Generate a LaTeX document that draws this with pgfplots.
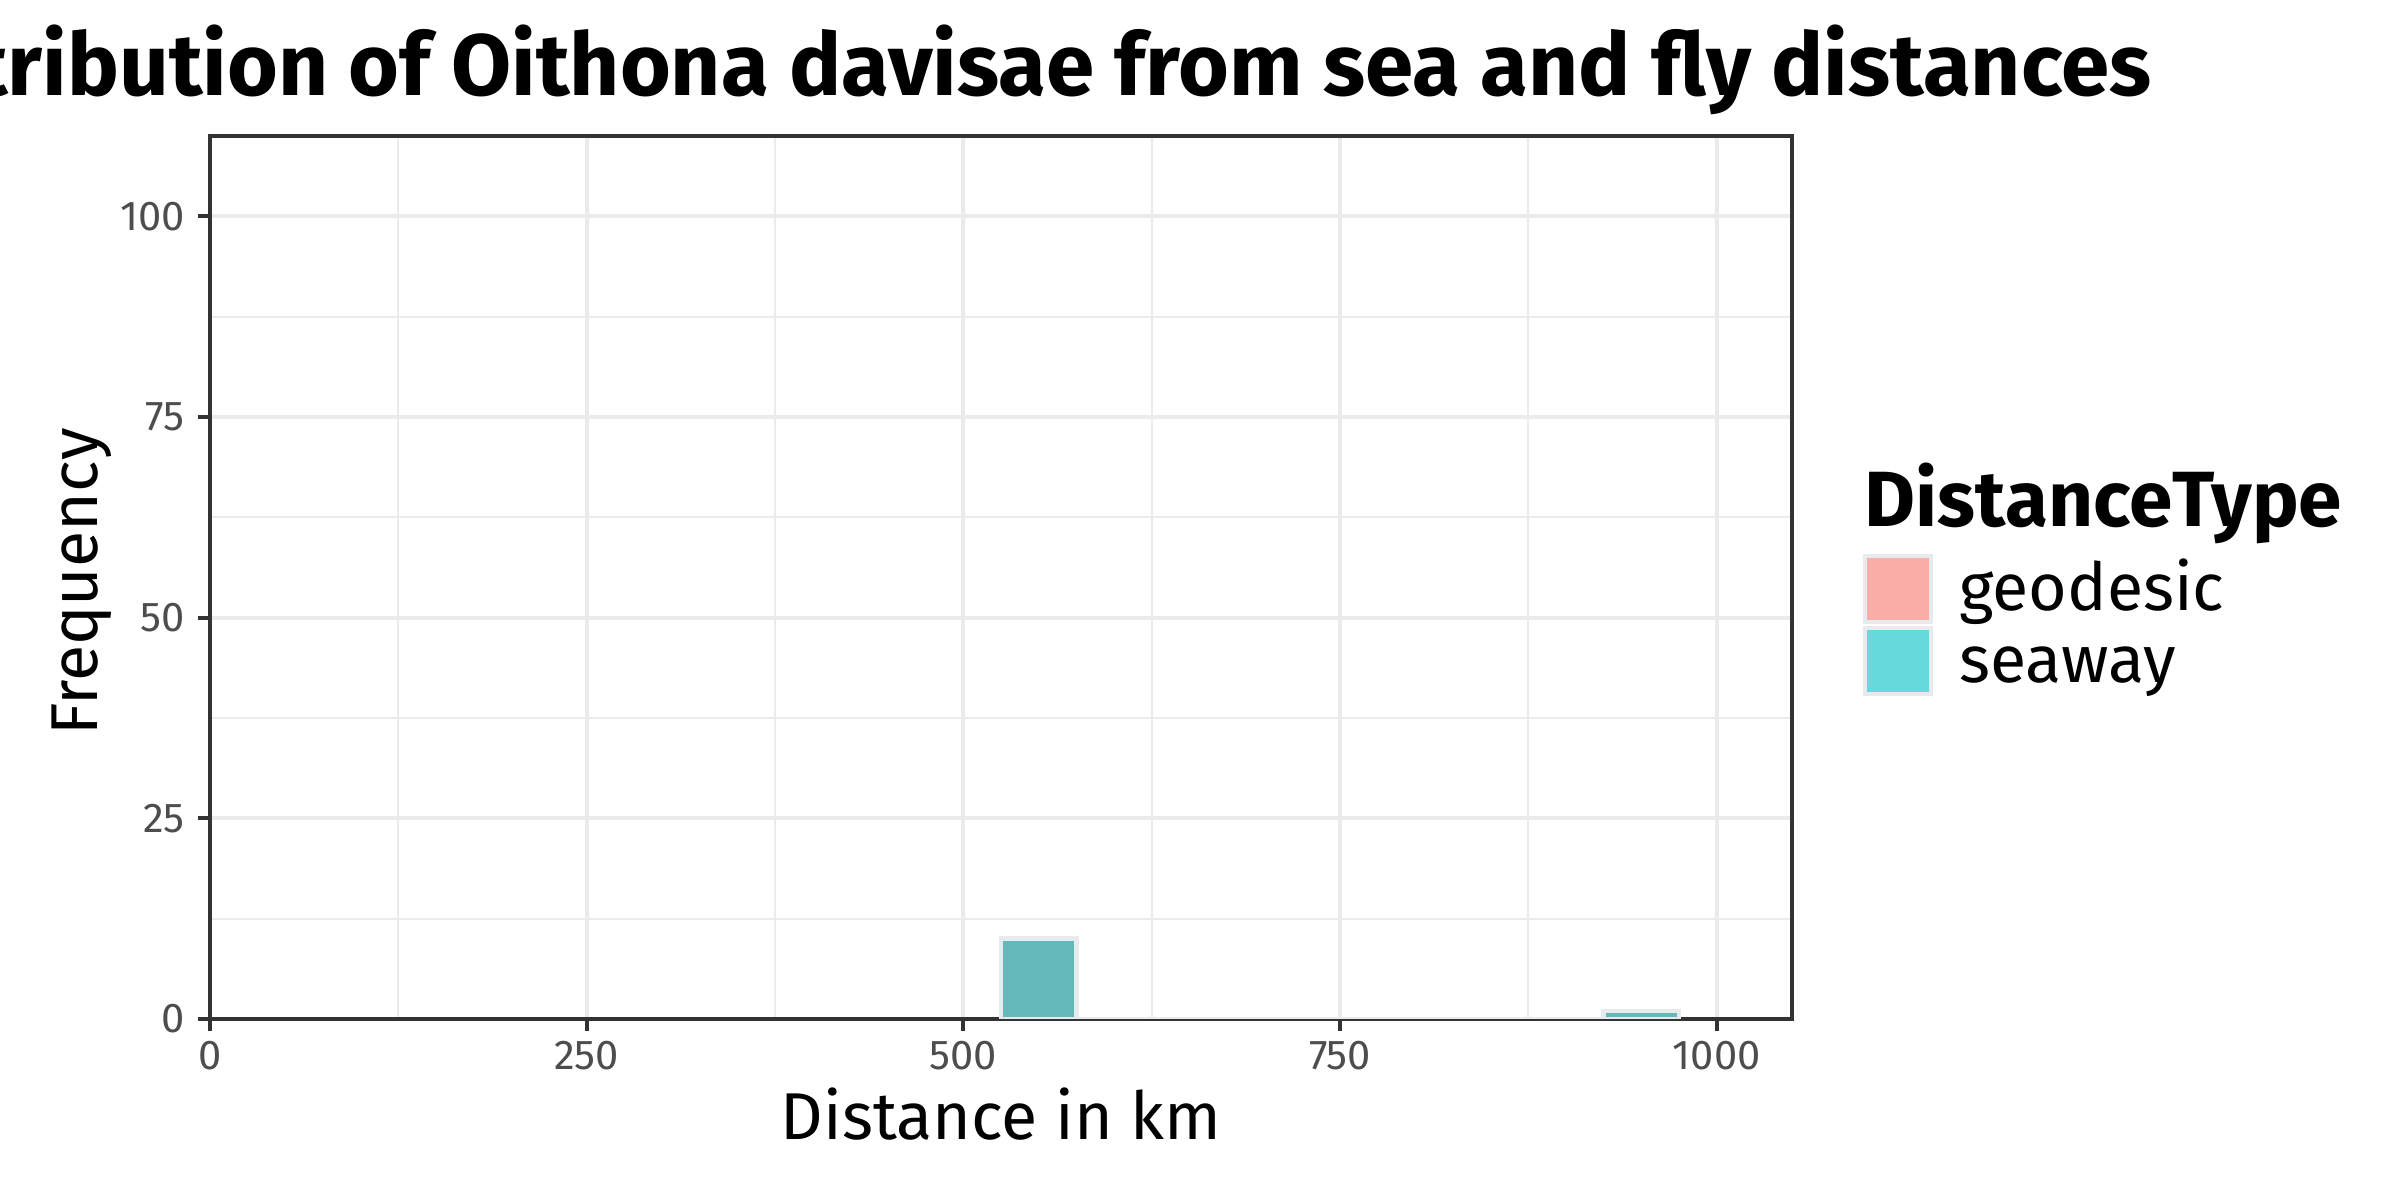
\documentclass[border=0pt]{standalone}
\usepackage{pgfplots}
\pgfplotsset{compat=1.18}
\usepackage{fontspec}
\setmainfont{Fira Sans}
\definecolor{geo}{HTML}{F8766D}
\definecolor{sea}{HTML}{00BFC4}
\definecolor{barline}{RGB}{232,235,238}
\definecolor{grey20}{HTML}{333333}
\definecolor{grey30}{HTML}{4D4D4D}
\definecolor{grey92}{HTML}{EBEBEB}
\begin{document}
\begin{tikzpicture}
\begin{axis}[
  at={(50.4pt,43.44pt)}, anchor=south west,
  scale only axis, width=379.68pt, height=211.92pt,
  xmin=0, xmax=1050, ymin=0, ymax=110,
  xtick={0,250,500,750,1000}, ytick={0,25,50,75,100},
  minor xtick={125,375,625,875}, minor ytick={12.5,37.5,62.5,87.5},
  grid=both,
  major grid style={grey92, line width=0.96pt},
  minor grid style={grey92, line width=0.5pt},
  axis line style={grey20, line width=1pt},
  tick pos=left, tick align=outside,
  major tick length=2.9pt, minor tick length=0pt,
  major tick style={grey20, line width=1pt},
  /pgf/number format/assume math mode=true,
  /pgf/number format/1000 sep={},
  scaled ticks=false,
  tick label style={font=\fontsize{10}{12}\selectfont, color=grey30},
  xticklabel style={inner sep=0pt, anchor=north, yshift=-2.2pt},
  yticklabel style={inner sep=0pt, anchor=east, xshift=-3pt},
  legend style={at={(1.04425,0.52775)}, anchor=north west, draw=none, fill=none,
    inner sep=0pt, column sep=6.24pt, row sep=0.4pt,
    font=\fontsize{15.9}{19}\selectfont,
    nodes={inner sep=0pt, text height=0pt, text depth=0pt, anchor=mid west, yshift=-2.6pt}},
  legend cell align=left,
]
\addplot[ybar interval, fill=geo, fill opacity=0.6, draw=barline, line width=1.1pt,
  legend image code/.code={\draw[line width=1.1pt] (0pt,-7.9pt) rectangle (15.8pt,7.9pt);}]
  coordinates {(525,10) (575,0) (625,0) (675,0) (725,0) (775,0) (825,0) (875,0) (925,1) (975,1)};
\addlegendentry{geodesic}
\addplot[ybar interval, fill=sea, fill opacity=0.6, draw=barline, line width=1.1pt,
  legend image code/.code={\draw[line width=1.1pt] (0pt,-7.9pt) rectangle (15.8pt,7.9pt);}]
  coordinates {(525,10) (575,0) (625,0) (675,0) (725,0) (775,0) (825,0) (875,0) (925,1) (975,1)};
\addlegendentry{seaway}
\end{axis}
\node[anchor=base, font=\bfseries\fontsize{20.9}{25}\selectfont] at (240.24pt,264.96pt) {Distribution of Oithona davisae from sea and fly distances};
\node[anchor=base, font=\fontsize{15.9}{19}\selectfont] at (240.24pt,14.4pt) {Distance in km};
\node[anchor=base, rotate=90, font=\fontsize{15.9}{19}\selectfont] at (23.52pt,148.3pt) {Frequency};
\node[anchor=base west, inner sep=0pt, font=\bfseries\fontsize{18.8}{23}\selectfont] at (447.36pt,161.52pt) {DistanceType};
\pgfresetboundingbox
\useasboundingbox (0,0) rectangle (576pt,288pt);
\end{tikzpicture}
\end{document}
